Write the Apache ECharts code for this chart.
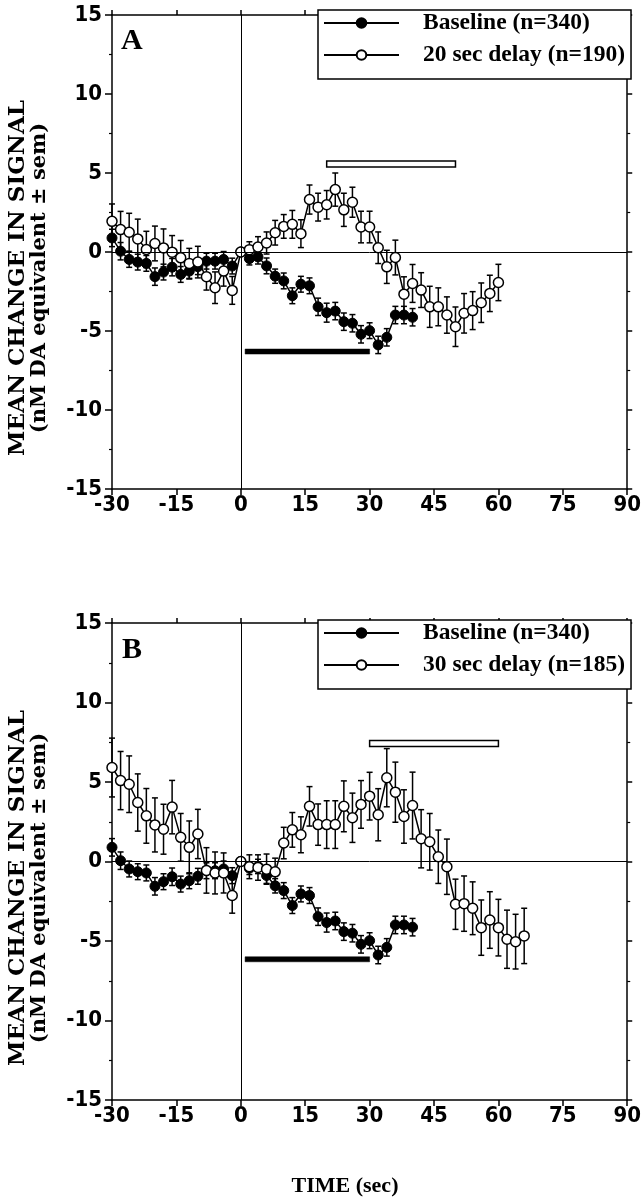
<!DOCTYPE html>
<html><head><meta charset="utf-8">
<script src="https://cdn.jsdelivr.net/npm/echarts@6/dist/echarts.min.js"></script>
<style>html,body{margin:0;padding:0;background:#fff}#c{width:644px;height:1200px}</style>
</head><body><div id="c"></div>
<script>
// ---------- DATA ----------
const timeBaseline = [-30,-28,-26,-24,-22,-20,-18,-16,-14,-12,-10,-8,-6,-4,-2,0,2,4,6,8,10,12,14,16,18,20,22,24,26,28,30,32,34,36,38,40];
const baselineMean = [0.89,0.05,-0.47,-0.64,-0.72,-1.56,-1.27,-0.96,-1.42,-1.21,-0.93,-0.58,-0.58,-0.47,-0.89,0,-0.42,-0.31,-0.88,-1.53,-1.83,-2.77,-2.04,-2.14,-3.47,-3.84,-3.74,-4.41,-4.51,-5.21,-4.98,-5.88,-5.40,-3.99,-3.99,-4.13];
const baselineSem  = [0.55,0.55,0.5,0.5,0.5,0.55,0.5,0.55,0.5,0.5,0.5,0.5,0.5,0.5,0.5,0,0.4,0.45,0.5,0.45,0.5,0.5,0.5,0.5,0.55,0.6,0.55,0.55,0.55,0.55,0.5,0.55,0.55,0.55,0.55,0.55];

const timeDelayA = [-30,-28,-26,-24,-22,-20,-18,-16,-14,-12,-10,-8,-6,-4,-2,0,2,4,6,8,10,12,14,16,18,20,22,24,26,28,30,32,34,36,38,40,42,44,46,48,50,52,54,56,58,60];
const delayAMean = [1.94,1.42,1.25,0.83,0.16,0.54,0.26,-0.01,-0.37,-0.72,-0.64,-1.56,-2.26,-1.21,-2.43,0,0.15,0.32,0.57,1.22,1.62,1.75,1.16,3.32,2.84,2.99,3.95,2.67,3.15,1.58,1.58,0.27,-0.94,-0.35,-2.67,-1.99,-2.41,-3.47,-3.47,-3.99,-4.73,-3.88,-3.71,-3.21,-2.62,-1.93];
const delayASem  = [1.1,1.15,1.2,1.25,1.15,1.1,1.2,1.05,1.1,0.95,1.0,0.85,1.0,0.95,0.88,0,0.5,0.65,0.7,0.78,0.75,0.88,0.88,0.92,0.88,0.9,1.05,1.05,0.95,1.0,1.0,1.0,1.05,1.1,1.1,1.2,1.1,1.3,1.2,1.15,1.25,1.25,1.2,1.25,1.15,1.15];

const timeDelayB = [-30,-28,-26,-24,-22,-20,-18,-16,-14,-12,-10,-8,-6,-4,-2,0,2,4,6,8,10,12,14,16,18,20,22,24,26,28,30,32,34,36,38,40,42,44,46,48,50,52,54,56,58,60,62,64,66];
const delayBMean = [5.91,5.09,4.86,3.71,2.87,2.30,2.03,3.42,1.52,0.89,1.73,-0.56,-0.72,-0.72,-2.14,0,-0.33,-0.38,-0.48,-0.65,1.16,1.99,1.68,3.47,2.32,2.32,2.32,3.47,2.75,3.59,4.11,2.94,5.27,4.36,2.83,3.52,1.43,1.24,0.30,-0.33,-2.69,-2.65,-2.94,-4.16,-3.68,-4.16,-4.89,-5.04,-4.68];
const delayBSem  = [1.85,1.83,1.78,1.8,1.72,1.7,1.57,1.68,1.5,1.66,1.55,1.43,1.32,1.26,1.11,0,0.75,0.8,0.95,0.86,0.99,1.09,1.13,1.24,1.3,1.5,1.5,1.6,1.55,1.5,1.5,1.64,1.83,1.89,1.68,2.1,1.83,1.78,1.68,1.74,1.58,1.74,1.66,1.74,1.78,1.78,1.83,1.72,1.74];

// stimulus bars: [start, end, level, open(1)/filled(0)]
const stimBarsA = [[20, 50, 5.57, 1], [1, 30, -6.3, 0]];
const stimBarsB = [[30, 60, 7.42, 1], [1, 30, -6.15, 0]];

const nameBaseline = 'Baseline (n=340)';
const nameDelayA = '20 sec delay (n=190)';
const nameDelayB = '30 sec delay (n=185)';
const panelLabels = ['A', 'B'];
const yTitle1 = 'MEAN CHANGE IN SIGNAL';
const yTitle2 = '(nM DA equivalent \u00b1 sem)';
const xTitle = 'TIME (sec)';

// ---------- HELPERS ----------
const zip = (t, m, s) => t.map((v, i) => s ? [v, m[i], s[i]] : [v, m[i]]);
const BLACK = '#000';
const serif = '"Liberation Serif","Times New Roman",serif';
const wideSerif = '"DejaVu Serif",serif';
const narrow = '"Liberation Sans Narrow","Arial Narrow","DejaVu Sans Condensed",sans-serif';

function errRender(params, api) {
  const t = api.value(0), m = api.value(1), s = api.value(2);
  if (!s) return null;
  const top = api.coord([t, m + s]), bot = api.coord([t, m - s]);
  const w = 3, st = { stroke: BLACK, lineWidth: 1.5 };
  return { type: 'group', children: [
    { type: 'line', shape: { x1: top[0], y1: top[1], x2: bot[0], y2: bot[1] }, style: st },
    { type: 'line', shape: { x1: top[0] - w, y1: top[1], x2: top[0] + w, y2: top[1] }, style: st },
    { type: 'line', shape: { x1: bot[0] - w, y1: bot[1], x2: bot[0] + w, y2: bot[1] }, style: st }
  ]};
}
function barRender(params, api) {
  const p1 = api.coord([api.value(0), api.value(2)]);
  const p2 = api.coord([api.value(1), api.value(2)]);
  const open = api.value(3) === 1;
  const h = open ? 6 : 5;
  return { type: 'rect', shape: { x: p1[0], y: p1[1] - h / 2, width: p2[0] - p1[0], height: h },
    style: { fill: open ? '#fff' : BLACK, stroke: BLACK, lineWidth: open ? 1.5 : 0.5 } };
}

const axisLineStyle = { show: true, onZero: false, lineStyle: { color: BLACK, width: 1.5 } };
const tickStyle = { lineStyle: { color: BLACK, width: 1.5 } };
const labelFont = { fontFamily: narrow, fontWeight: 'bold', fontSize: 22, color: BLACK };

function xAxesFor(gi) {
  return [
    { gridIndex: gi, type: 'value', min: -30, max: 90, interval: 15, position: 'bottom',
      axisLine: axisLineStyle, axisTick: Object.assign({ length: 6 }, tickStyle),
      axisLabel: Object.assign({ margin: 5 }, labelFont), splitLine: { show: false } },
    { gridIndex: gi, type: 'value', min: -30, max: 90, interval: 15, position: 'top',
      axisLine: axisLineStyle, axisTick: Object.assign({ length: 5 }, tickStyle),
      axisLabel: { show: false }, splitLine: { show: false } }
  ];
}
function yAxesFor(gi) {
  return [
    { gridIndex: gi, type: 'value', min: -15, max: 15, interval: 5, position: 'left',
      axisLine: axisLineStyle, axisTick: Object.assign({ length: 7 }, tickStyle),
      minorTick: { show: true, splitNumber: 2, length: 3, lineStyle: { color: BLACK, width: 1.2 } },
      axisLabel: Object.assign({ margin: 10 }, labelFont), splitLine: { show: false }, minorSplitLine: { show: false } },
    { gridIndex: gi, type: 'value', min: -15, max: 15, interval: 5, position: 'right',
      axisLine: axisLineStyle, axisTick: Object.assign({ length: 5 }, tickStyle),
      minorTick: { show: true, splitNumber: 2, length: 3, lineStyle: { color: BLACK, width: 1.2 } },
      axisLabel: { show: false }, splitLine: { show: false }, minorSplitLine: { show: false } }
  ];
}

function seriesFor(gi, delayName, tD, mD, sD, bars) {
  const xi = gi * 2, yi = gi * 2;
  return [
    { type: 'custom', name: 'err-base-' + gi, xAxisIndex: xi, yAxisIndex: yi, z: 2, silent: true,
      renderItem: errRender, data: zip(timeBaseline, baselineMean, baselineSem),
      markLine: { silent: true, symbol: ['none', 'none'], label: { show: false },
        lineStyle: { color: BLACK, width: 1, type: 'solid' }, data: [{ yAxis: 0 }, { xAxis: 0 }] } },
    { type: 'custom', name: 'err-delay-' + gi, xAxisIndex: xi, yAxisIndex: yi, z: 2, silent: true,
      renderItem: errRender, data: zip(tD, mD, sD) },
    { type: 'custom', name: 'bars-' + gi, xAxisIndex: xi, yAxisIndex: yi, z: 2, silent: true,
      renderItem: barRender, data: bars },
    { type: 'line', name: nameBaseline, xAxisIndex: xi, yAxisIndex: yi, z: 3,
      data: zip(timeBaseline, baselineMean), symbol: 'circle', symbolSize: 10, showAllSymbol: true,
      lineStyle: { color: BLACK, width: 1.5 },
      itemStyle: { color: BLACK, borderColor: BLACK, borderWidth: 1 } },
    { type: 'line', name: delayName, xAxisIndex: xi, yAxisIndex: yi, z: 4,
      data: zip(tD, mD), symbol: 'circle', symbolSize: 10, showAllSymbol: true,
      lineStyle: { color: BLACK, width: 1.5 },
      itemStyle: { color: '#fff', borderColor: BLACK, borderWidth: 1.5 } }
  ];
}

function legendFor(top, names) {
  return { data: names, orient: 'vertical', left: 318, top: top, itemWidth: 75, itemHeight: 12, itemGap: 8,
    padding: [1, 6, 12, 5], borderColor: BLACK, borderWidth: 1.5, backgroundColor: '#fff', selectedMode: false,
    textStyle: { fontFamily: serif, fontWeight: 'bold', fontSize: 23.5, lineHeight: 24, color: BLACK, padding: [0, 0, 0, 19] } };
}

function titleText(cx, cy, text, size) {
  return { type: 'text', x: cx, y: cy, rotation: Math.PI / 2,
    style: { text: text, fontFamily: wideSerif, fontWeight: 'bold', fontSize: size, fill: BLACK, align: 'center', verticalAlign: 'middle' } };
}

const option = {
  animation: false,
  backgroundColor: '#fff',
  grid: [
    { left: 112, right: 13, top: 15, height: 474 },
    { left: 112, right: 13, top: 623, height: 477 }
  ],
  xAxis: xAxesFor(0).concat(xAxesFor(1)),
  yAxis: yAxesFor(0).concat(yAxesFor(1)),
  legend: [legendFor(10, [nameBaseline, nameDelayA]), legendFor(620, [nameBaseline, nameDelayB])],
  series: seriesFor(0, nameDelayA, timeDelayA, delayAMean, delayASem, stimBarsA)
    .concat(seriesFor(1, nameDelayB, timeDelayB, delayBMean, delayBSem, stimBarsB)),
  graphic: [
    { type: 'text', x: 121, y: 26, style: { text: panelLabels[0], fontFamily: serif, fontWeight: 'bold', fontSize: 30, fill: BLACK } },
    { type: 'text', x: 122, y: 635, style: { text: panelLabels[1], fontFamily: serif, fontWeight: 'bold', fontSize: 30, fill: BLACK } },
    titleText(18, 278, yTitle1, 23),
    titleText(40, 278, yTitle2, 21),
    titleText(18, 888, yTitle1, 23),
    titleText(40, 888, yTitle2, 21),
    { type: 'text', x: 345, y: 1186, style: { text: xTitle, fontFamily: serif, fontWeight: 'bold', fontSize: 22, fill: BLACK, align: 'center', verticalAlign: 'middle' } }
  ]
};
const chart = echarts.init(document.getElementById('c'), null, { renderer: 'canvas' });
chart.setOption(option);
</script></body></html>
